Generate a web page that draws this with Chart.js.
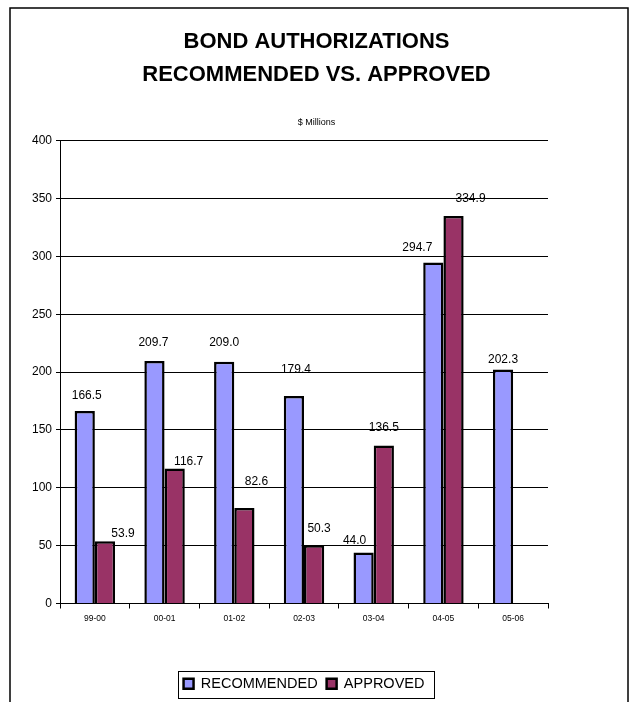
<!DOCTYPE html>
<html>
<head>
<meta charset="utf-8">
<script src="https://cdn.jsdelivr.net/npm/chart.js@4.4.1/dist/chart.umd.min.js"></script>
<style>
  html, body { margin: 0; padding: 0; background: #fff; }
</style>
</head>
<body>
<canvas id="grafica" width="633" height="702"></canvas>
<script>
// valores en millones de dolares
const periodos = ['99-00', '00-01', '01-02', '02-03', '03-04', '04-05', '05-06'];
const recomendado = [166.5, 209.7, 209.0, 179.4, 44.0, 294.7, 202.3];
const aprobado = [53.9, 116.7, 82.6, 50.3, 136.5, 334.9, null];
const ejeY = { min: 0, max: 400, paso: 50 };

// desplazamiento de cada etiqueta respecto al borde superior de su barra
const despRecomendado = [[2, -15], [-1, -18], [0, -19], [2, -26], [-9, -12], [-16, -15], [0, -10]];
const despAprobado = [[18, -7], [14, -7], [12, -26], [5, -17], [0, -18], [17, -17], [0, 0]];

const fuente = 'Arial, "Liberation Sans", sans-serif';

const marco = {
  id: 'marco',
  beforeDraw(chart) {
    const ctx = chart.ctx;
    ctx.save();
    ctx.fillStyle = '#fff';
    ctx.fillRect(0, 0, chart.width, chart.height);
    ctx.strokeStyle = '#000';
    ctx.lineWidth = 1.5;
    ctx.strokeRect(10, 8, 618, 720);
    ctx.restore();
  }
};

const etiquetas = {
  id: 'etiquetas',
  afterDatasetsDraw(chart) {
    const ctx = chart.ctx;
    const desp = [despRecomendado, despAprobado];
    ctx.save();
    ctx.font = '12px ' + fuente;
    ctx.fillStyle = '#000';
    ctx.textAlign = 'center';
    ctx.textBaseline = 'middle';
    chart.data.datasets.forEach((ds, i) => {
      chart.getDatasetMeta(i).data.forEach((bar, j) => {
        const v = ds.data[j];
        if (v === null || v === undefined) return;
        const [dx, dy] = desp[i][j];
        ctx.fillText(v.toFixed(1), bar.x + dx, bar.y + dy);
      });
    });
    ctx.restore();
  }
};

// recuadro alrededor de la leyenda
const cajaLeyenda = {
  id: 'cajaLeyenda',
  afterDraw(chart) {
    const cajas = chart.legend.legendHitBoxes;
    if (!cajas || !cajas.length) return;
    let izq = Infinity, der = -Infinity, arr = Infinity, aba = -Infinity;
    cajas.forEach(c => {
      izq = Math.min(izq, c.left);
      der = Math.max(der, c.left + c.width);
      arr = Math.min(arr, c.top);
      aba = Math.max(aba, c.top + c.height);
    });
    const ctx = chart.ctx;
    ctx.save();
    ctx.strokeStyle = '#000';
    ctx.lineWidth = 1;
    ctx.strokeRect(Math.round(izq - 6) + 0.5, Math.round(arr - 6) + 0.5,
      Math.round(der - izq + 15), Math.round(aba - arr + 12));
    ctx.restore();
  }
};

new Chart(document.getElementById('grafica').getContext('2d'), {
  type: 'bar',
  data: {
    labels: periodos,
    datasets: [{
      label: 'RECOMMENDED',
      data: recomendado,
      backgroundColor: '#9999FF',
      borderColor: '#000',
      borderWidth: 2.5,
      borderSkipped: 'bottom'
    }, {
      label: 'APPROVED',
      data: aprobado,
      backgroundColor: '#993366',
      borderColor: '#000',
      borderWidth: 2.5,
      borderSkipped: 'bottom'
    }]
  },
  options: {
    responsive: false,
    animation: false,
    barPercentage: 1,
    categoryPercentage: 0.58,
    layout: { padding: { left: 0, right: 0, top: 0, bottom: 1 } },
    plugins: {
      title: {
        display: true,
        text: ['BOND AUTHORIZATIONS', 'RECOMMENDED VS. APPROVED'],
        color: '#000',
        font: { family: fuente, size: 22, weight: 'bold', lineHeight: 1.5 },
        padding: { top: 25, bottom: 0 }
      },
      subtitle: {
        display: true,
        text: '$ Millions',
        color: '#000',
        font: { family: fuente, size: 9, lineHeight: 1.2 },
        padding: { top: 26, bottom: 13 }
      },
      legend: {
        position: 'bottom',
        fullSize: false,
        labels: {
          color: '#000',
          font: { family: fuente, size: 14.5 },
          boxWidth: 10,
          boxHeight: 10,
          padding: 9
        }
      },
      tooltip: { enabled: false }
    },
    scales: {
      x: {
        grid: { offset: true, drawOnChartArea: false, tickLength: 5, color: '#000' },
        border: { color: '#000', width: 1 },
        ticks: { color: '#000', font: { family: fuente, size: 8.5 }, padding: 5 },
        afterFit(s) { s.height = 64; }
      },
      y: {
        min: ejeY.min,
        max: ejeY.max,
        ticks: { stepSize: ejeY.paso, color: '#000', font: { family: fuente, size: 12 }, padding: 4 },
        grid: { color: '#000', lineWidth: 1, tickLength: 4 },
        border: { color: '#000', width: 1 },
        afterFit(s) { s.width = 60; }
      },
      margen: {
        position: 'right',
        grid: { display: false, drawTicks: false },
        border: { display: false },
        ticks: { display: false },
        afterFit(s) { s.width = 85; }
      }
    }
  },
  plugins: [marco, etiquetas, cajaLeyenda]
});
</script>
</body>
</html>
